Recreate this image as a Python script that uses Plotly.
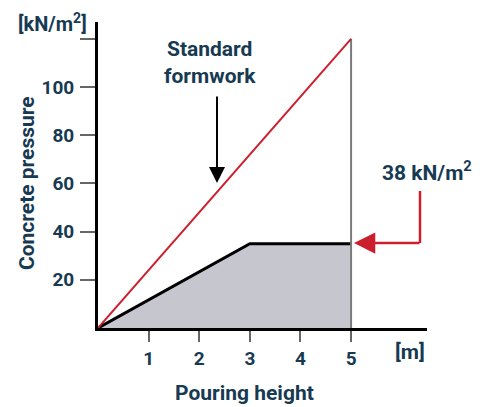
import plotly.graph_objects as go

# Data
std_x = [0, 5]
std_y = [0, 120]
sys_x = [0, 3, 5]
sys_y = [0, 35, 35]
x_ticks = [1, 2, 3, 4, 5]
y_ticks = [20, 40, 60, 80, 100, 120]
y_ticklabels = ["20", "40", "60", "80", "100", ""]

OFF = 8  # default page body margin
W, H = 483 - OFF, 407 - OFF
# plot area in page pixels: left 98, right 427, top 22, bottom 328
L, T = 98 - OFF, 22 - OFF
R = W - (427 - OFF)
B = H - (328 - OFF)
PW, PH = W - L - R, H - T - B

def px(x):
    return (x - OFF - L) / PW

def py(y):
    return (H - B - (y - OFF)) / PH

NAVY = "#173a52"
RED = "#cc1f2d"
FONT = "Roboto"

fig = go.Figure()
fig.add_trace(go.Scatter(x=sys_x, y=sys_y, mode="lines", fill="tozeroy",
                         fillcolor="#c6c6ce", line=dict(color="black", width=3),
                         hoverinfo="skip"))
fig.add_trace(go.Scatter(x=[std_x[1], std_x[1]], y=[0, std_y[1]], mode="lines",
                         line=dict(color="#7a7a7a", width=2), hoverinfo="skip"))
fig.add_trace(go.Scatter(x=std_x, y=std_y, mode="lines",
                         line=dict(color=RED, width=2), hoverinfo="skip"))

axis_common = dict(showline=True, linecolor="black", linewidth=3, showgrid=False,
                   zeroline=False, ticks="outside", tickcolor="#666666", tickwidth=1.5,
                   tickfont=dict(family=FONT, size=19, color=NAVY, weight="bold"))
fig.update_xaxes(range=[0, 6.5], tickvals=x_ticks, ticklen=11, **axis_common)
fig.update_yaxes(range=[0, 127], tickvals=y_ticks, ticktext=y_ticklabels, ticklen=15,
                 ticklabelstandoff=2, **axis_common)

ann_font = dict(family=FONT, size=21, color=NAVY, weight="bold")
anns = [
    dict(text="[kN/m<sup>2</sup>]", x=px(52), y=py(8), yanchor="top",
         font=dict(family=FONT, size=20, color=NAVY, weight="bold")),
    dict(text="Standard<br>formwork", x=px(210), y=py(63)),
    dict(text="38 kN/m<sup>2</sup>", x=px(427), y=py(171)),
    dict(text="[m]", x=px(410), y=py(352)),
    dict(text="Pouring height", x=px(244), y=py(393)),
    dict(text="Concrete pressure", x=px(27), y=py(183), textangle=-90),
]
for a in anns:
    a.setdefault("font", ann_font)
    a.setdefault("yanchor", "middle")
    fig.add_annotation(xref="paper", yref="paper", showarrow=False,
                       xanchor="center", **a)

# black arrow
fig.add_annotation(xref="paper", yref="paper", x=px(217), y=py(183), text="",
                   showarrow=True, ax=0, ay=-88, arrowhead=2, arrowsize=1.6,
                   arrowwidth=2, arrowcolor="black")
# red arrow
fig.add_shape(type="line", xref="paper", yref="paper", x0=px(420), y0=py(191),
              x1=px(420), y1=py(243), line=dict(color=RED, width=2.5))
fig.add_annotation(xref="paper", yref="paper", x=px(354), y=py(243), text="",
                   showarrow=True, ax=67, ay=0, arrowhead=2, arrowsize=1.7,
                   arrowwidth=2.5, arrowcolor=RED)

fig.update_layout(width=W, height=H, margin=dict(l=L, r=R, t=T, b=B),
                  paper_bgcolor="white", plot_bgcolor="white", showlegend=False)
fig.write_html("out.html")
